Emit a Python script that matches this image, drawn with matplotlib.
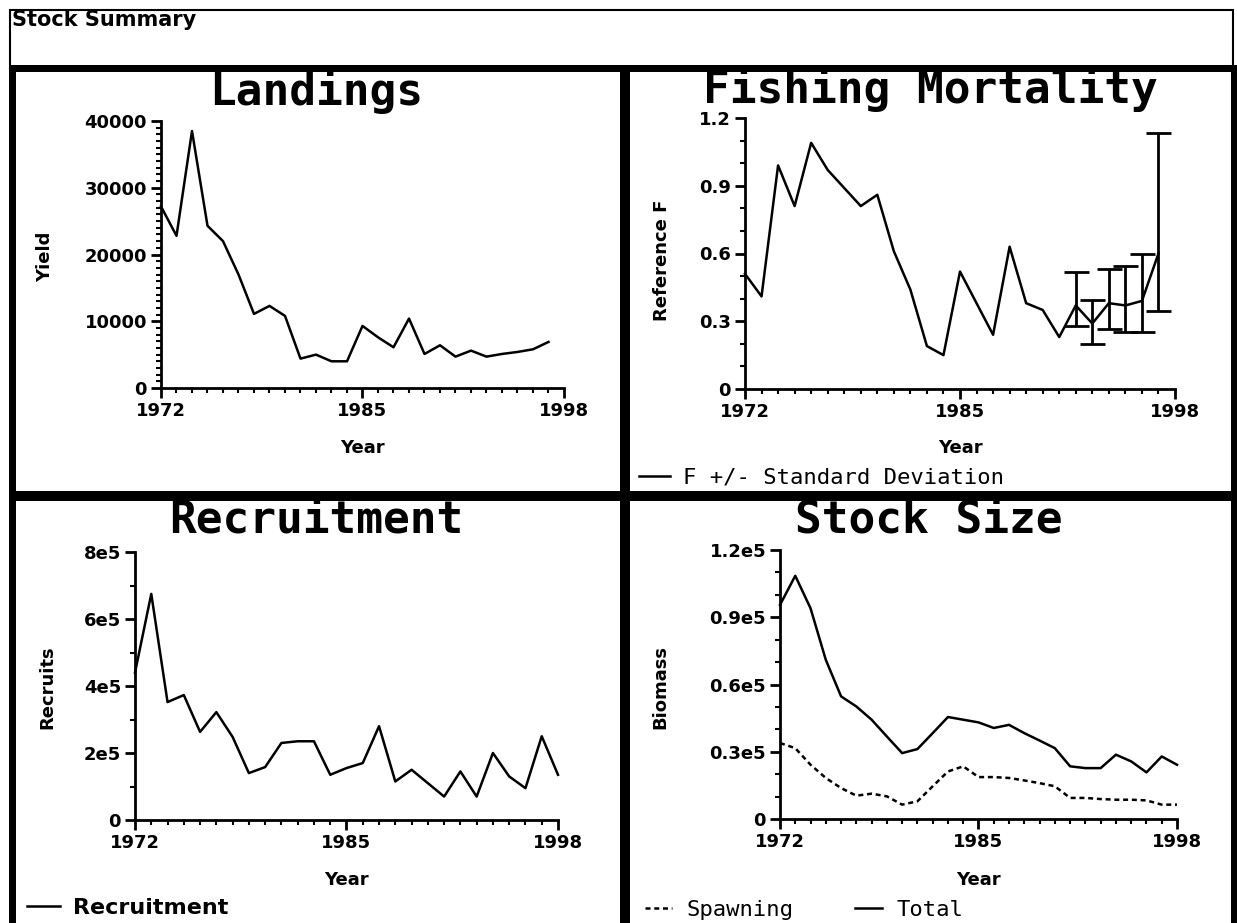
import matplotlib
matplotlib.use('Agg')
import matplotlib.pyplot as plt
from matplotlib.patches import Rectangle
from matplotlib.ticker import MultipleLocator

# ---- data ----
land_years = list(range(1972, 1998))
landings = [27200, 22800, 38500, 24300, 22000, 17000, 11100, 12300, 10800, 4400,
            5000, 4000, 4000, 9300, 7600, 6100, 10400, 5100, 6400, 4700,
            5600, 4700, 5100, 5400, 5800, 6900]

f_years = list(range(1972, 1998))
f_ref = [0.51, 0.41, 0.99, 0.81, 1.09, 0.97, 0.89, 0.81, 0.86, 0.61,
         0.44, 0.19, 0.15, 0.52, 0.38, 0.24, 0.63, 0.38, 0.35, 0.23,
         0.37, 0.29, 0.38, 0.37, 0.39, 0.60]
sd_years = [1992, 1993, 1994, 1995, 1996, 1997]
sd_low = [0.28, 0.20, 0.267, 0.253, 0.253, 0.347]
sd_high = [0.52, 0.395, 0.533, 0.543, 0.60, 1.133]

rec_years = list(range(1972, 1999))
recruits = [4.4e5, 6.75e5, 3.52e5, 3.73e5, 2.63e5, 3.22e5, 2.48e5, 1.40e5, 1.58e5,
            2.30e5, 2.35e5, 2.35e5, 1.35e5, 1.55e5, 1.70e5, 2.80e5, 1.15e5, 1.50e5,
            1.10e5, 0.70e5, 1.45e5, 0.70e5, 2.00e5, 1.30e5, 0.95e5, 2.50e5, 1.35e5]

stock_years = list(range(1972, 1999))
total_biomass = [95500, 108500, 94000, 71000, 54700, 50200, 44300, 36800, 29400,
                 31200, 38300, 45500, 44300, 43100, 40600, 42000, 38300, 35000,
                 31600, 23500, 22700, 22700, 28700, 25700, 20800, 27900, 24200]
spawning_biomass = [33900, 31600, 24200, 18300, 13800, 10400, 11300, 10100, 6400,
                    7900, 14600, 21200, 23500, 18700, 18700, 18300, 17200, 16000,
                    14600, 9400, 9400, 8900, 8600, 8600, 8300, 6400, 6400]

year_ticks = [1972, 1985, 1998]
land_yticks = [0, 10000, 20000, 30000, 40000]
land_ylabels = ['0', '10000', '20000', '30000', '40000']
f_yticks = [0, 0.3, 0.6, 0.9, 1.2]
f_ylabels = ['0', '0.3', '0.6', '0.9', '1.2']
rec_yticks = [0, 2e5, 4e5, 6e5, 8e5]
rec_ylabels = ['0', '2e5', '4e5', '6e5', '8e5']
stock_yticks = [0, 0.3e5, 0.6e5, 0.9e5, 1.2e5]
stock_ylabels = ['0', '0.3e5', '0.6e5', '0.9e5', '1.2e5']

plt.rcParams['font.family'] = ['DejaVu Sans']

W, H = 1237, 923
fig = plt.figure(figsize=(W / 100, H / 100), dpi=100)

# frame of the sheet (pixel coordinates, y downwards)
bg = fig.add_axes([0, 0, 1, 1])
bg.set_xlim(0, W)
bg.set_ylim(H, 0)
bg.axis('off')
bg.add_patch(Rectangle((9.5, 10), 1223, 58, fill=False, lw=1.5, ec='black'))
for (x, y, w, h) in [(9, 65, 1228, 7), (9, 65, 7, 858), (1231, 65, 6, 858),
                     (9, 491, 1228, 10), (620, 65, 10, 858)]:
    bg.add_patch(Rectangle((x, y), w, h, color='black', lw=0))

fig.text(12 / W, 1 - 10 / H, 'Stock Summary', ha='left', va='top',
         fontsize=15, fontweight='bold')


def px_axes(box):
    x0, y0, x1, y1 = box
    return fig.add_axes([x0 / W, 1 - y1 / H, (x1 - x0) / W, (y1 - y0) / H])


def style(ax, box, yticks, ylabels, yminor, ylabel, ylab_xy, xlab_xy):
    x0, y0, x1, y1 = box
    ax.patch.set_alpha(0)
    ax.set_xlim(1972, 1998)
    ax.set_ylim(0, yticks[-1])
    for s in ['top', 'right']:
        ax.spines[s].set_visible(False)
    for s in ['left', 'bottom']:
        ax.spines[s].set_linewidth(2)
    ax.set_xticks(year_ticks)
    ax.set_xticklabels([str(y) for y in year_ticks])
    ax.xaxis.set_minor_locator(MultipleLocator(1))
    ax.set_yticks(yticks)
    ax.set_yticklabels(ylabels)
    ax.yaxis.set_minor_locator(MultipleLocator(yminor))
    ax.tick_params(which='major', length=7, width=2, direction='out',
                   labelsize=13, pad=3)
    ax.tick_params(which='minor', length=3.5, width=1.5, direction='out')
    for lab in ax.get_xticklabels() + ax.get_yticklabels():
        lab.set_fontweight('bold')
    ax.set_xlabel('Year', fontsize=13, fontweight='bold', va='center')
    ax.xaxis.set_label_coords((xlab_xy[0] - x0) / (x1 - x0), (y1 - xlab_xy[1]) / (y1 - y0))
    ax.set_ylabel(ylabel, fontsize=13, fontweight='bold', va='center')
    ax.yaxis.set_label_coords((ylab_xy[0] - x0) / (x1 - x0), (y1 - ylab_xy[1]) / (y1 - y0))


def title(txt, x, y):
    fig.text(x / W, 1 - y / H, txt, ha='center', va='center', fontsize=32,
             fontweight='bold', family='DejaVu Sans Mono')


mono = {'family': 'DejaVu Sans Mono', 'size': 16}
LW = 1.8

# Landings
box = (161, 121, 564, 388)
ax1 = px_axes(box)
ax1.plot(land_years, landings, color='black', lw=LW, clip_on=False)
style(ax1, box, land_yticks, land_ylabels, 1000, 'Yield', (45, 257), (362, 448))
title('Landings', 316, 91)

# Fishing mortality
box = (745, 118, 1175, 389)
ax2 = px_axes(box)
f_line, = ax2.plot(f_years, f_ref, color='black', lw=LW, clip_on=False)
f_at_sd = [f_ref[f_years.index(y)] for y in sd_years]
ax2.errorbar(sd_years, f_at_sd,
             yerr=[[f - lo for f, lo in zip(f_at_sd, sd_low)],
                   [hi - f for f, hi in zip(f_at_sd, sd_high)]],
             fmt='none', ecolor='black', elinewidth=2, capsize=9, capthick=2)
style(ax2, box, f_yticks, f_ylabels, 0.1, 'Reference F', (662, 260), (960, 448))
title('Fishing Mortality', 930, 90)
fig.legend(handles=[f_line], labels=['F +/- Standard Deviation'], loc='center left',
           bbox_to_anchor=(639 / W, 1 - 478 / H), frameon=False, borderpad=0,
           borderaxespad=0, handlelength=1.4, handletextpad=0.6, prop=mono)

# Recruitment
box = (135, 552, 558, 820)
ax3 = px_axes(box)
r_line, = ax3.plot(rec_years, recruits, color='black', lw=LW, clip_on=False)
style(ax3, box, rec_yticks, rec_ylabels, 1e5, 'Recruits', (47, 687), (346, 880))
title('Recruitment', 316, 520)
fig.legend(handles=[r_line], labels=['Recruitment'], loc='center left',
           bbox_to_anchor=(27 / W, 1 - 908 / H), frameon=False, borderpad=0,
           borderaxespad=0, handlelength=1.5, handletextpad=0.55,
           prop={'size': 16, 'weight': 'bold'})

# Stock size
box = (780, 550, 1177, 819)
ax4 = px_axes(box)
s_line, = ax4.plot(stock_years, spawning_biomass, color='black', lw=LW,
                   ls=(0, (2, 1.5)), clip_on=False)
t_line, = ax4.plot(stock_years, total_biomass, color='black', lw=LW, clip_on=False)
style(ax4, box, stock_yticks, stock_ylabels, 0.1e5, 'Biomass', (660, 687), (978, 880))
title('Stock Size', 929, 520)
fig.legend(handles=[s_line, t_line], labels=['Spawning', 'Total'], loc='center left',
           bbox_to_anchor=(645 / W, 1 - 910 / H), frameon=False, borderpad=0,
           borderaxespad=0, ncol=2, handlelength=1.2, handletextpad=0.65,
           columnspacing=2.8, prop=mono)

fig.savefig('out.png', dpi=100)
